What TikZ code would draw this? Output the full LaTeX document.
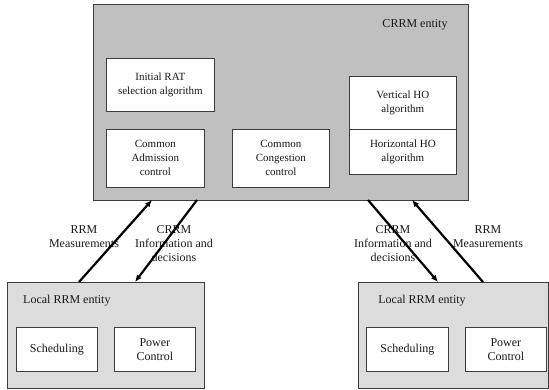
\documentclass[tikz,border=0pt]{standalone}
\usepackage{fontspec}
\setmainfont{Liberation Serif}
\usetikzlibrary{arrows.meta}
\definecolor{crrmgray}{RGB}{192,192,192}
\definecolor{localgray}{RGB}{220,220,220}
\definecolor{edgegray}{RGB}{60,60,60}
\definecolor{textgray}{RGB}{25,25,25}
\begin{document}
\begin{tikzpicture}[x=1pt,y=-1pt,
  every node/.style={font=\fontsize{12}{14}\selectfont, text=textgray, align=center, inner sep=0pt},
  entity/.style={draw=edgegray, line width=0.8pt, anchor=north west},
  func/.style={draw=edgegray, fill=white, line width=0.7pt, anchor=north west},
  small/.style={font=\fontsize{11}{14}\selectfont},
  flow/.style={line width=2.2pt, -{Latex[length=7pt,width=6pt]}}]
\useasboundingbox (0,0) rectangle (549,389);
% CRRM entity
\node[entity, fill=crrmgray, minimum width=375pt, minimum height=196pt] (crrm) at (93,4) {};
\node (crrmlbl) at (415,25) {CRRM entity};
\node[func, small, minimum width=108pt, minimum height=53pt] (rat) at (106,58) {Initial RAT\\selection algorithm};
\node[func, small, minimum width=98pt, minimum height=58pt] (cac) at (106,129) {Common\\Admission\\control};
\node[func, small, minimum width=97pt, minimum height=58pt] (ccc) at (232,129) {Common\\Congestion\\control};
\node[func, small, minimum width=107pt, minimum height=53pt] (vho) at (349,76) {Vertical HO\\algorithm};
\node[func, small, minimum width=107pt, minimum height=45pt] (hho) at (349,129) {Horizontal HO\\algorithm};
% Local RRM entities
\node[entity, fill=localgray, minimum width=197pt, minimum height=106pt] (locl) at (7,282) {};
\node[anchor=west] (locllbl) at (23,301) {Local RRM entity};
\node[func, minimum width=81pt, minimum height=44pt] (schl) at (16,327) {Scheduling};
\node[func, minimum width=81pt, minimum height=44pt] (pcl) at (114,327) {Power\\Control};
\node[entity, fill=localgray, minimum width=190pt, minimum height=106pt] (locr) at (358,282) {};
\node (locrlbl) at (422,301) {Local RRM entity};
\node[func, minimum width=82pt, minimum height=44pt] (schr) at (366,327) {Scheduling};
\node[func, minimum width=81pt, minimum height=44pt] (pcr) at (465,327) {Power\\Control};
% connector end points on the box borders
\coordinate (a1) at (79,282);  \coordinate (a2) at (152,200);
\coordinate (b1) at (197,200); \coordinate (b2) at (135,282);
\coordinate (c1) at (368,200); \coordinate (c2) at (438,282);
\coordinate (d1) at (483,282); \coordinate (d2) at (412,200);
% labels (drawn beneath the arrows)
\node (meas1) at (84,237) {RRM\\Measurements};
\node (info1) at (174,244) {CRRM\\Information and\\decisions};
\node (info2) at (393,244) {CRRM\\Information and\\decisions};
\node (meas2) at (488,237) {RRM\\Measurements};
% flows
\draw[flow] (a1) -- (a2);
\draw[flow] (b1) -- (b2);
\draw[flow] (c1) -- (c2);
\draw[flow] (d1) -- (d2);
\end{tikzpicture}
\end{document}
